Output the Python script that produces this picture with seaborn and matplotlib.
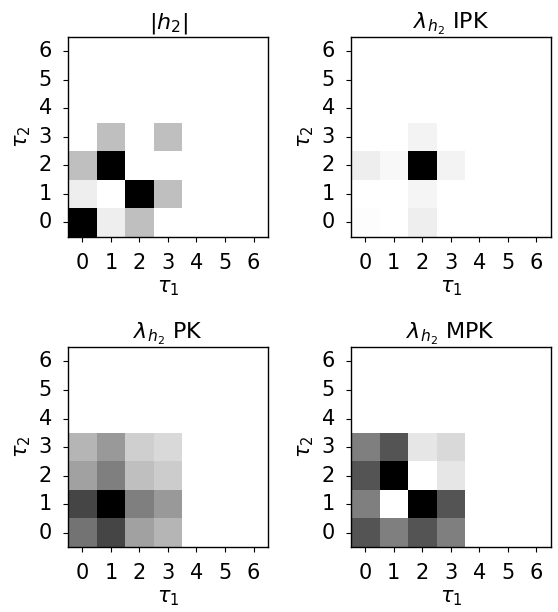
import numpy as np
import matplotlib
matplotlib.use("Agg")
import matplotlib.pyplot as plt
import seaborn as sns

# lag indices
taus = [0, 1, 2, 3, 4, 5, 6]

# rows = tau2 (0..3), cols = tau1 (0..3); everything else is zero
h2_abs = [
    [1.00, 0.07, 0.25, 0.00],
    [0.07, 0.00, 1.00, 0.25],
    [0.25, 1.00, 0.00, 0.00],
    [0.00, 0.25, 0.00, 0.25],
]
lam_ipk = [
    [0.01, 0.00, 0.07, 0.00],
    [0.00, 0.00, 0.04, 0.00],
    [0.07, 0.03, 1.00, 0.05],
    [0.00, 0.00, 0.05, 0.00],
]
lam_pk = [
    [0.55, 0.73, 0.37, 0.29],
    [0.73, 1.00, 0.50, 0.40],
    [0.37, 0.50, 0.25, 0.20],
    [0.29, 0.40, 0.19, 0.15],
]
lam_mpk = [
    [0.67, 0.50, 0.67, 0.50],
    [0.50, 0.00, 1.00, 0.67],
    [0.67, 1.00, 0.00, 0.10],
    [0.50, 0.67, 0.10, 0.15],
]

titles = [r"$|h_2|$", r"$\lambda_{h_2}$ IPK", r"$\lambda_{h_2}$ PK", r"$\lambda_{h_2}$ MPK"]
mats = [h2_abs, lam_ipk, lam_pk, lam_mpk]

fs = 15
fig = plt.figure(figsize=(5.58, 6.12), dpi=100)
positions = [
    [0.122, 0.613, 0.358, 0.327],
    [0.629, 0.613, 0.358, 0.327],
    [0.122, 0.106, 0.358, 0.327],
    [0.629, 0.106, 0.358, 0.327],
]

for pos, m, t in zip(positions, mats, titles):
    ax = fig.add_axes(pos)
    full = np.zeros((len(taus), len(taus)))
    m = np.array(m)
    full[:m.shape[0], :m.shape[1]] = m
    sns.heatmap(full, ax=ax, cmap="gray_r", vmin=0, vmax=1, cbar=False,
                square=True, xticklabels=taus, yticklabels=taus)
    ax.invert_yaxis()
    for s in ax.spines.values():
        s.set_visible(True)
        s.set_color("black")
        s.set_linewidth(1.0)
    ax.tick_params(labelsize=fs, length=3.5, pad=8, rotation=0)
    ax.set_xlabel(r"$\tau_1$", fontsize=fs, labelpad=4)
    ax.set_ylabel(r"$\tau_2$", fontsize=fs, labelpad=4)
    ax.set_title(t, fontsize=fs + 1)

fig.savefig("out.png", dpi=100)
